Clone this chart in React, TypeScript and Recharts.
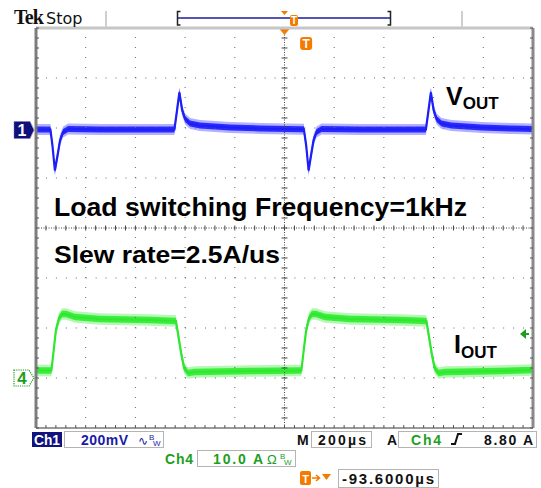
import React from 'react';
import { ComposedChart, Line, Area, XAxis, YAxis, ReferenceLine } from 'recharts';

// ---- data ----
// time in microseconds from the left edge of the screen (200 us/div, 10 div)
const voutTimeUs = [0, 58, 66, 76, 87, 97, 109, 129, 258, 557, 565, 577, 588, 600, 620, 660, 781, 901, 1070, 1078, 1087, 1097, 1107, 1117, 1129, 1149, 1304, 1569, 1577, 1589, 1600, 1612, 1632, 1672, 1793, 1913, 2000];
// Ch1 (VOUT) deviation from its ground marker, mV (200 mV/div)
const voutMv = [2, 2, -60, -162, -100, -40, -8, 4, 2, 2, 60, 150, 80, 44, 26, 18, 10, 6, 3, 3, -60, -162, -100, -40, -8, 4, 2, 2, 60, 150, 80, 44, 26, 18, 10, 6, 4];

const ioutTimeUs = [0, 62, 70, 80, 93, 105, 121, 157, 258, 459, 563, 571, 584, 596, 612, 640, 861, 1068, 1076, 1087, 1099, 1111, 1127, 1163, 1264, 1465, 1571, 1579, 1592, 1604, 1620, 1646, 1867, 2000];
// Ch4 (IOUT) amps (10 A/div)
const ioutA = [1.5, 1.5, 5, 9.5, 12, 12.8, 12.8, 12.2, 11.8, 11.6, 11.4, 9, 5, 2, 1.0, 1.2, 1.4, 1.5, 5, 9.5, 12, 12.8, 12.8, 12.2, 11.8, 11.6, 11.4, 9, 5, 2, 1.0, 1.2, 1.4, 1.6];

// scope settings
const ch1Domain = [-1192, 408]; // marker at +1.96 div
const ch4Domain = [-10, 70]; // marker at -3 div
const triggerLevelA = 8.8;
const triggerTimeUs = 1085;
const expansionTimeUs = 1000;

// graticule
const timeDomain = [0, 2000];
const minorX = Array.from({ length: 51 }, (_, i) => i * 40);
const minorY = Array.from({ length: 41 }, (_, i) => Math.round((-4 + i * 0.2) * 100) / 100);
const gridX = [200, 400, 600, 800, 1200, 1400, 1600, 1800];
const gridY = [-3, -2, -1, 1, 2, 3];

const VOUT_CORE = 12;
const VOUT_HALO = 22;
const IOUT_CORE = 0.65;
const IOUT_HALO = 1.15;

const vData = voutTimeUs.map((t, i) => ({
  t,
  v: voutMv[i],
  core: [voutMv[i] - VOUT_CORE, voutMv[i] + VOUT_CORE],
  halo: [voutMv[i] - VOUT_HALO, voutMv[i] + VOUT_HALO],
}));
const iData = ioutTimeUs.map((t, i) => ({
  t,
  v: ioutA[i],
  core: [ioutA[i] - IOUT_CORE, ioutA[i] + IOUT_CORE],
  halo: [ioutA[i] - IOUT_HALO, ioutA[i] + IOUT_HALO],
}));

const ORANGE = '#f47a00';
const GREEN_UI = '#1e9e1e';
const SANS = 'Liberation Sans, Arial, sans-serif';

function Ch1Marker(props: any) {
  const vb = props.viewBox || {};
  const tip = vb.x - 2;
  const y = vb.y;
  return (
    <g>
      <path d={`M${tip - 20} ${y - 8.5} H${tip - 4} L${tip} ${y} L${tip - 4} ${y + 8.5} H${tip - 20} Z`} fill="#10107a" stroke="#7a7ac0" strokeWidth={1} strokeDasharray="1 1" />
      <text x={tip - 12} y={y + 6} textAnchor="middle" fill="#fff" fontFamily={SANS} fontWeight="bold" fontSize={16}>1</text>
    </g>
  );
}

function Ch4Marker(props: any) {
  const vb = props.viewBox || {};
  const tip = vb.x - 2;
  const y = vb.y;
  return (
    <g>
      <path d={`M${tip - 20} ${y - 8} H${tip - 5} L${tip} ${y} L${tip - 5} ${y + 8} H${tip - 20} Z`} fill="#fff" stroke={GREEN_UI} strokeWidth={1.2} strokeDasharray="1.2 1" />
      <text x={tip - 12} y={y + 6} textAnchor="middle" fill={GREEN_UI} fontFamily={SANS} fontWeight="bold" fontSize={17}>4</text>
    </g>
  );
}

function TrigLevelMarker(props: any) {
  const vb = props.viewBox || {};
  const right = vb.x + vb.width;
  const y = vb.y;
  const tip = right - 13;
  return (
    <g>
      <path d={`M${tip} ${y} L${tip + 6} ${y - 5} L${tip + 6} ${y + 5} Z`} fill={GREEN_UI} />
      <line x1={tip + 5} y1={y} x2={tip + 9} y2={y} stroke={GREEN_UI} strokeWidth={2} />
    </g>
  );
}

function TriggerT(props: any) {
  const vb = props.viewBox || {};
  const x = vb.x;
  const top = vb.y;
  return (
    <g>
      <rect x={x - 5.5} y={top + 9} width={12} height={13} rx={3} fill={ORANGE} />
      <text x={x + 0.5} y={top + 20} textAnchor="middle" fill="#fff" fontFamily={SANS} fontWeight="bold" fontSize={12}>T</text>
    </g>
  );
}

function ExpansionMarker(props: any) {
  const vb = props.viewBox || {};
  const x = vb.x;
  const top = vb.y;
  return <path d={`M${x - 5} ${top + 1} L${x + 5} ${top + 1} L${x} ${top + 7} Z`} fill={ORANGE} />;
}

export default function App() {
  const W = 541;
  const H = 488;
  return (
    <div style={{ position: 'absolute', left: 0, top: 0, width: W, height: H, background: '#fff', overflow: 'hidden' }}>
      <div style={{ position: 'absolute', left: 0, top: 0 }}>
        <ComposedChart width={W} height={H} margin={{ top: 28, right: 8, bottom: 60, left: 36 }}>
          <XAxis xAxisId="t" type="number" dataKey="t" domain={timeDomain} ticks={minorX} interval={0} orientation="bottom" mirror tickSize={3} tickFormatter={() => ''} axisLine={{ stroke: '#9a9a9a', strokeWidth: 2 }} tickLine={{ stroke: '#555' }} allowDataOverflow />
          <XAxis xAxisId="top" type="number" domain={timeDomain} ticks={minorX} interval={0} orientation="top" mirror tickSize={3} tickFormatter={() => ''} axisLine={{ stroke: '#c6c6c6', strokeWidth: 3 }} tickLine={{ stroke: '#555' }} allowDataOverflow />
          <YAxis yAxisId="g" type="number" domain={[-4, 4]} ticks={minorY} interval={0} orientation="left" mirror tickSize={3} tickFormatter={() => ''} axisLine={{ stroke: '#7e7e7e', strokeWidth: 3 }} tickLine={{ stroke: '#555' }} allowDataOverflow />
          <YAxis yAxisId="gr" type="number" domain={[-4, 4]} ticks={minorY} interval={0} orientation="right" mirror tickSize={3} tickFormatter={() => ''} axisLine={{ stroke: '#8a8a8a', strokeWidth: 3 }} tickLine={{ stroke: '#555' }} allowDataOverflow />
          <YAxis yAxisId="c1" type="number" domain={ch1Domain} hide allowDataOverflow />
          <YAxis yAxisId="c4" type="number" domain={ch4Domain} hide allowDataOverflow />

          {gridX.map((x) => (
            <ReferenceLine key={'gx' + x} xAxisId="t" yAxisId="g" x={x} stroke="#666" strokeDasharray="1 9" />
          ))}
          {gridY.map((y) => (
            <ReferenceLine key={'gy' + y} xAxisId="t" yAxisId="g" y={y} stroke="#666" strokeDasharray="1 8.94" />
          ))}
          <ReferenceLine xAxisId="t" yAxisId="g" y={0} stroke="#444" strokeDasharray="1 1.5" />
          <ReferenceLine xAxisId="t" yAxisId="g" x={expansionTimeUs} stroke="#444" strokeDasharray="1 1.5" label={<ExpansionMarker />} />
          {minorX.map((x) => (
            <ReferenceLine key={'tx' + x} xAxisId="t" yAxisId="g" segment={[{ x, y: -0.05 }, { x, y: 0.05 }]} stroke="#444" />
          ))}
          {minorY.map((y) => (
            <ReferenceLine key={'ty' + y} xAxisId="t" yAxisId="g" segment={[{ x: expansionTimeUs - 12, y }, { x: expansionTimeUs + 12, y }]} stroke="#444" />
          ))}

          <Area data={vData} xAxisId="t" yAxisId="c1" dataKey="halo" type="linear" stroke="none" fill="#9090ff" fillOpacity={0.7} isAnimationActive={false} dot={false} activeDot={false} />
          <Area data={vData} xAxisId="t" yAxisId="c1" dataKey="core" type="linear" stroke="none" fill="#2a2aff" fillOpacity={1} isAnimationActive={false} dot={false} activeDot={false} />
          <Line data={vData} xAxisId="t" yAxisId="c1" dataKey="v" type="linear" stroke="#1e1ef8" strokeWidth={2.2} dot={false} activeDot={false} isAnimationActive={false} />

          <Area data={iData} xAxisId="t" yAxisId="c4" dataKey="halo" type="linear" stroke="none" fill="#a8f6a8" fillOpacity={0.85} isAnimationActive={false} dot={false} activeDot={false} />
          <Area data={iData} xAxisId="t" yAxisId="c4" dataKey="core" type="linear" stroke="none" fill="#3cee3c" fillOpacity={1} isAnimationActive={false} dot={false} activeDot={false} />
          <Line data={iData} xAxisId="t" yAxisId="c4" dataKey="v" type="linear" stroke="#30e630" strokeWidth={2.2} dot={false} activeDot={false} isAnimationActive={false} />

          <ReferenceLine xAxisId="t" yAxisId="c1" y={0} stroke="none" label={<Ch1Marker />} />
          <ReferenceLine xAxisId="t" yAxisId="c4" y={0} stroke="none" label={<Ch4Marker />} />
          <ReferenceLine xAxisId="t" yAxisId="c4" y={triggerLevelA} stroke="none" label={<TrigLevelMarker />} />
          <ReferenceLine xAxisId="t" yAxisId="g" x={triggerTimeUs} stroke="none" label={<TriggerT />} />
        </ComposedChart>
      </div>

      <svg width={W} height={H} style={{ position: 'absolute', left: 0, top: 0, pointerEvents: 'none' }}>
        {/* top status bar */}
        <text x={14} y={24} fontFamily="Liberation Serif, serif" fontWeight="bold" fontSize={20} letterSpacing={-0.8} fill="#111">Tek</text>
        <text x={46} y={24} fontFamily="DejaVu Sans, sans-serif" fontSize={16} fill="#111">Stop</text>
        <line x1={106} y1={11} x2={106} y2={27} stroke="#cfcfcf" strokeWidth={2} />
        <line x1={462} y1={11} x2={462} y2={27} stroke="#cfcfcf" strokeWidth={2} />
        <line x1={178} y1={18} x2={390} y2={18} stroke="#1c1c9c" strokeWidth={1.5} />
        <path d="M180.5 11.5 H177.5 V25 H180.5" fill="none" stroke="#222" strokeWidth={1.5} />
        <path d="M387.5 11.5 H390.5 V25 H387.5" fill="none" stroke="#222" strokeWidth={1.5} />
        <path d="M281 11 L288 11 L284.5 15 Z" fill={ORANGE} />
        <rect x={290} y={15} width={8} height={11} rx={2} fill={ORANGE} />
        <text x={294} y={24} textAnchor="middle" fontFamily={SANS} fontWeight="bold" fontSize={10} fill="#fff">T</text>

        {/* annotations */}
        <text x={54} y={216} fontFamily={SANS} fontWeight="bold" fontSize={25} textLength={413} lengthAdjust="spacingAndGlyphs" fill="#000">Load switching Frequency=1kHz</text>
        <text x={54} y={263} fontFamily={SANS} fontWeight="bold" fontSize={24} textLength={226} lengthAdjust="spacingAndGlyphs" fill="#000">Slew rate=2.5A/us</text>
        <text x={446} y={105} fontFamily={SANS} fontWeight="bold" fontSize={25} fill="#000">V<tspan fontSize={17} dy={4}>OUT</tspan></text>
        <text x={454} y={353} fontFamily={SANS} fontWeight="bold" fontSize={25} fill="#000">I<tspan fontSize={17} dy={4.5}>OUT</tspan></text>

        {/* bottom status bar */}
        <rect x={32} y={432} width={30} height={15} fill="#12127e" />
        <text x={34} y={445} fontFamily={SANS} fontWeight="bold" fontSize={14} textLength={26} lengthAdjust="spacingAndGlyphs" fill="#fff">Ch1</text>
        <rect x={64.5} y={431.5} width={99} height={16} fill="#fff" stroke="#b4b4b4" />
        <text x={81} y={445} fontFamily={SANS} fontWeight="bold" fontSize={14} textLength={47} lengthAdjust="spacing" fill="#1a1aa8">200mV</text>
        <text x={138} y={445} fontFamily="DejaVu Sans, sans-serif" fontSize={12} fill="#1a1aa8">∿</text>
        <text x={149} y={440} fontFamily={SANS} fontSize={8} fill="#1a1aa8">B</text>
        <text x={153} y={446} fontFamily={SANS} fontSize={8} fill="#1a1aa8">W</text>

        <text x={297} y={445} fontFamily={SANS} fontWeight="bold" fontSize={14} fill="#111">M</text>
        <rect x={311.5} y={431.5} width={60} height={16} fill="#fff" stroke="#b4b4b4" />
        <text x={318} y={445} fontFamily={SANS} fontWeight="bold" fontSize={14} textLength={48} lengthAdjust="spacing" fill="#111">200µs</text>
        <text x={387} y={445} fontFamily={SANS} fontWeight="bold" fontSize={14} fill="#111">A</text>
        <rect x={398.5} y={431.5} width={138} height={16} fill="#fff" stroke="#b4b4b4" />
        <text x={411} y={445} fontFamily={SANS} fontWeight="bold" fontSize={14} textLength={30} lengthAdjust="spacing" fill={GREEN_UI}>Ch4</text>
        <path d="M451 444 H455 L458 434 H462" fill="none" stroke="#111" strokeWidth={2} />
        <text x={484} y={445} fontFamily={SANS} fontWeight="bold" fontSize={14} textLength={49} lengthAdjust="spacing" fill="#111">8.80 A</text>

        <text x={165} y={464} fontFamily={SANS} fontWeight="bold" fontSize={14} textLength={28} lengthAdjust="spacing" fill={GREEN_UI}>Ch4</text>
        <rect x={197.5} y={450.5} width={98} height={16} fill="#fff" stroke="#b4b4b4" />
        <text x={213} y={464} fontFamily={SANS} fontWeight="bold" fontSize={14} textLength={50} lengthAdjust="spacing" fill={GREEN_UI}>10.0 A</text>
        <text x={267} y={464} fontFamily={SANS} fontSize={13} fill={GREEN_UI}>Ω</text>
        <text x={280} y={459} fontFamily={SANS} fontSize={8} fill={GREEN_UI}>B</text>
        <text x={284} y={465} fontFamily={SANS} fontSize={8} fill={GREEN_UI}>W</text>

        <rect x={300} y={471} width={11} height={14} rx={2} fill={ORANGE} />
        <text x={305.5} y={482.5} textAnchor="middle" fontFamily={SANS} fontWeight="bold" fontSize={11} fill="#fff">T</text>
        <path d="M312 478 H319 M316 475 L319.5 478 L316 481" fill="none" stroke={ORANGE} strokeWidth={1.6} />
        <path d="M322 474 L331 474 L326.5 480 Z" fill={ORANGE} />
        <rect x={338.5} y={469.5} width={100} height={18} fill="#fff" stroke="#b4b4b4" />
        <text x={342} y={484} fontFamily={SANS} fontWeight="bold" fontSize={15} textLength={92} lengthAdjust="spacing" fill="#111">-93.6000µs</text>
      </svg>
    </div>
  );
}
